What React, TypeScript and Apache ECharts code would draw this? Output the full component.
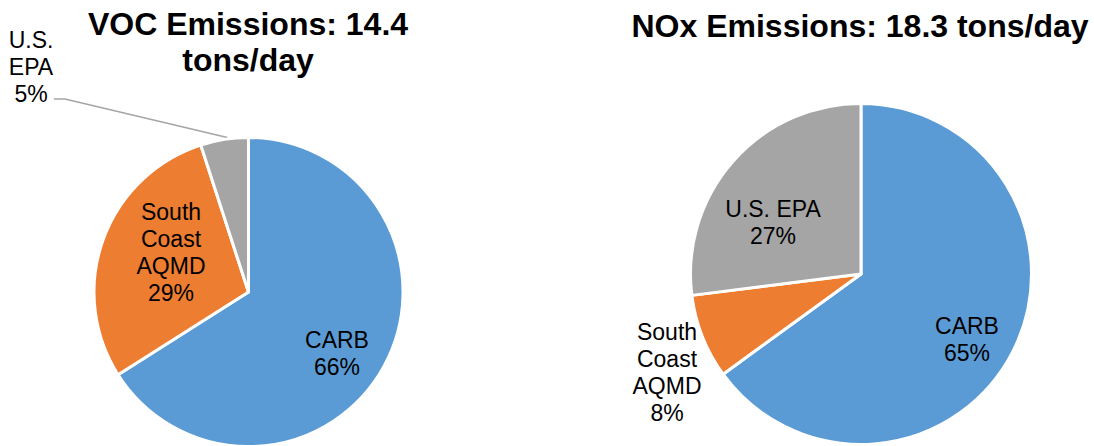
import React, { useEffect, useRef } from "react";
import * as echarts from "echarts";

// ---- Data ----
const agencyColors = ["#5B9BD5", "#ED7D31", "#A5A5A5"];

const vocTitle = "VOC Emissions: 14.4\ntons/day";
const vocLabels = ["CARB", "South\nCoast\nAQMD", "U.S.\nEPA"];
const vocValues = [66, 29, 5];

const noxTitle = "NOx Emissions: 18.3 tons/day";
const noxLabels = ["CARB", "South\nCoast\nAQMD", "U.S. EPA"];
const noxValues = [65, 8, 27];

// ---- Layout (positions / styles only) ----
const FONT = "'Liberation Sans', Arial, sans-serif";
const vocLayout = {
  center: [248.5, 292],
  radius: 154.5,
  labelAnchors: [[337, 353], [171, 252], [31, 67]],
  outside: [false, false, true],
};
const noxLayout = {
  center: [861, 274],
  radius: 170.5,
  labelAnchors: [[967, 339], [667, 372], [773, 222]],
  outside: [false, true, false],
};

function buildSeries(labels: string[], values: number[], layout: any, lineFromOutside: boolean[]) {
  return {
    type: "pie",
    center: layout.center,
    radius: [0, layout.radius],
    startAngle: 90,
    clockwise: true,
    avoidLabelOverlap: false,
    silent: true,
    itemStyle: { borderColor: "#ffffff", borderWidth: 3 },
    label: {
      show: true,
      position: "inside",
      formatter: (p: any) => `${p.name}\n${p.value}%`,
      color: "#000000",
      fontFamily: FONT,
      fontSize: 23,
      lineHeight: 27,
      align: "center",
    },
    labelLine: { show: false },
    labelLayout: (p: any) => {
      const a = layout.labelAnchors[p.dataIndex];
      const res: any = { x: a[0], y: a[1], align: "center", verticalAlign: "middle" };
      if (lineFromOutside[p.dataIndex] && p.labelLinePoints && p.labelLinePoints[0]) {
        const p0 = p.labelLinePoints[0];
        res.labelLinePoints = [[p0[0] + 3, p0[1] - 2], [a[0] + 34, a[1] + 32], [a[0] + 23, a[1] + 32]];
      }
      return res;
    },
    data: labels.map((name, i) => {
      const item: any = {
        name,
        value: values[i],
        itemStyle: { color: agencyColors[i] },
      };
      if (layout.outside[i]) {
        item.label = { position: "outside" };
        item.labelLine = {
          show: lineFromOutside[i],
          length: 10,
          length2: 10,
          lineStyle: { color: "#A5A5A5", width: 1.5 },
        };
      }
      return item;
    }),
  };
}

export default function App() {
  const ref = useRef<HTMLDivElement>(null);
  useEffect(() => {
    if (!ref.current) return;
    const chart = echarts.init(ref.current, null, { renderer: "svg" });
    chart.setOption({
      animation: false,
      backgroundColor: "#ffffff",
      title: [
        {
          text: vocTitle,
          left: 243,
          top: 1,
          textAlign: "center",
          textStyle: { fontFamily: FONT, fontSize: 32, fontWeight: "bold", color: "#000000", lineHeight: 36 },
        },
        {
          text: noxTitle,
          left: 855,
          top: 3,
          textAlign: "center",
          textStyle: { fontFamily: FONT, fontSize: 32, fontWeight: "bold", color: "#000000", lineHeight: 36 },
        },
      ],
      series: [
        buildSeries(vocLabels, vocValues, vocLayout, [false, false, true]),
        buildSeries(noxLabels, noxValues, noxLayout, [false, false, false]),
      ],
    });
    return () => chart.dispose();
  }, []);
  return (
    <div
      ref={ref}
      style={{ position: "absolute", left: 0, top: 0, width: 1094, height: 446 }}
    />
  );
}
